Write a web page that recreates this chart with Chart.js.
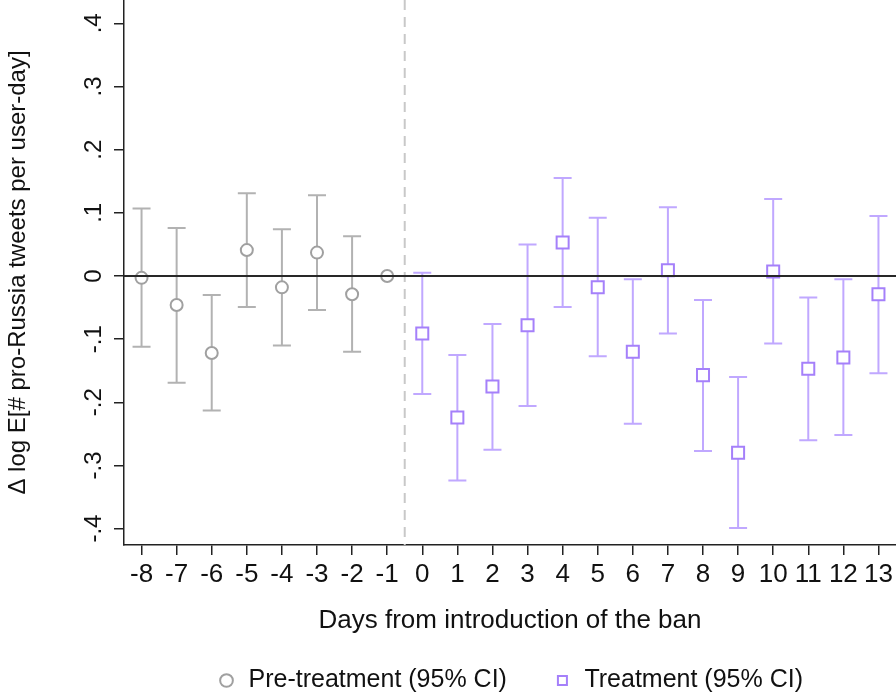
<!DOCTYPE html>
<html>
<head>
<meta charset="utf-8">
<script src="https://cdn.jsdelivr.net/npm/chart.js@4/dist/chart.umd.min.js"></script>
<style>
  html, body { margin: 0; padding: 0; background: #ffffff; }
  #wrap { width: 896px; height: 694px; }
</style>
</head>
<body>
<div id="wrap"><canvas id="c" width="896" height="694"></canvas></div>
<script>
// ---- data ----
const preDays = [-8, -7, -6, -5, -4, -3, -2, -1];
const preEst  = [-0.003, -0.046, -0.122, 0.041, -0.018, 0.037, -0.029, 0.000];
const preLo   = [-0.112, -0.169, -0.213, -0.049, -0.110, -0.054, -0.120, null];
const preHi   = [ 0.107,  0.076, -0.030,  0.131,  0.074,  0.128,  0.063, null];

const treatDays = [0, 1, 2, 3, 4, 5, 6, 7, 8, 9, 10, 11, 12, 13];
const treatEst  = [-0.091, -0.224, -0.175, -0.078, 0.053, -0.018, -0.120, 0.009, -0.157, -0.280, 0.007, -0.147, -0.129, -0.029];
const treatLo   = [-0.187, -0.324, -0.275, -0.206, -0.049, -0.127, -0.234, -0.091, -0.277, -0.399, -0.107, -0.260, -0.252, -0.154];
const treatHi   = [ 0.005, -0.125, -0.076,  0.050,  0.155,  0.092, -0.005,  0.109, -0.038, -0.160,  0.122, -0.034, -0.005,  0.095];

const xTickValues = [-8, -7, -6, -5, -4, -3, -2, -1, 0, 1, 2, 3, 4, 5, 6, 7, 8, 9, 10, 11, 12, 13];
const yTickValues = [-0.4, -0.3, -0.2, -0.1, 0, 0.1, 0.2, 0.3, 0.4];
const yTickLabels = ['-.4', '-.3', '-.2', '-.1', '0', '.1', '.2', '.3', '.4'];

const seriesNames = ['Pre-treatment (95% CI)', 'Treatment (95% CI)'];
const xTitle = 'Days from introduction of the ban';
const yTitle = 'Δ log E[# pro-Russia tweets per user-day]';
const banLine = -0.5;
const zeroLine = 0;

// ---- styling ----
const FONT = "'Liberation Sans', Arial, Helvetica, sans-serif";
const GREY_BAR = 'rgb(178,178,178)';
const GREY_MARK = 'rgb(160,160,160)';
const PURPLE_BAR = 'rgb(192,168,255)';
const PURPLE_MARK = 'rgb(165,128,250)';
const LEGEND_PAD = 46;
const LEGEND_H = 72;

const errorBars = {
  id: 'errorBars',
  beforeDatasetsDraw(chart) {
    const { ctx, chartArea, scales: { x, y } } = chart;
    // dashed line at the ban introduction
    ctx.save();
    ctx.strokeStyle = 'rgb(200,200,200)';
    ctx.lineWidth = 2;
    ctx.setLineDash([10, 7]);
    const bx = x.getPixelForValue(banLine);
    ctx.beginPath();
    ctx.moveTo(bx, chartArea.top);
    ctx.lineTo(bx, chartArea.bottom);
    ctx.stroke();
    ctx.restore();

    chart.data.datasets.forEach(ds => {
      if (!ds.errLo) return;
      ctx.save();
      ctx.strokeStyle = ds.errColor;
      ctx.lineWidth = 2;
      ds.data.forEach((pt, i) => {
        const lo = ds.errLo[i], hi = ds.errHi[i];
        if (lo == null || hi == null) return;
        const px = x.getPixelForValue(pt.x);
        const pl = y.getPixelForValue(lo);
        const ph = y.getPixelForValue(hi);
        ctx.beginPath();
        ctx.moveTo(px, pl); ctx.lineTo(px, ph);
        ctx.moveTo(px - 9, pl); ctx.lineTo(px + 9, pl);
        ctx.moveTo(px - 9, ph); ctx.lineTo(px + 9, ph);
        ctx.stroke();
      });
      ctx.restore();
    });
  },
  afterDatasetsDraw(chart) {
    const { ctx, chartArea, scales: { y } } = chart;
    const zy = y.getPixelForValue(zeroLine);
    ctx.save();
    ctx.strokeStyle = 'rgb(40,40,40)';
    ctx.lineWidth = 2;
    ctx.beginPath();
    ctx.moveTo(chartArea.left, zy);
    ctx.lineTo(chartArea.right, zy);
    ctx.stroke();
    ctx.restore();
  }
};

new Chart(document.getElementById('c'), {
  type: 'scatter',
  data: {
    datasets: [
      {
        label: seriesNames[0],
        data: preDays.map((d, i) => ({ x: d, y: preEst[i] })),
        errLo: preLo, errHi: preHi, errColor: GREY_BAR,
        pointStyle: 'circle',
        pointRadius: 6,
        pointBorderWidth: 2,
        borderColor: GREY_MARK,
        backgroundColor: '#ffffff',
        pointBorderColor: GREY_MARK,
        pointBackgroundColor: '#ffffff'
      },
      {
        label: seriesNames[1],
        data: treatDays.map((d, i) => ({ x: d, y: treatEst[i] })),
        errLo: treatLo, errHi: treatHi, errColor: PURPLE_BAR,
        pointStyle: 'rect',
        pointRadius: 8.5,
        pointBorderWidth: 2,
        borderColor: PURPLE_MARK,
        backgroundColor: '#ffffff',
        pointBorderColor: PURPLE_MARK,
        pointBackgroundColor: '#ffffff'
      }
    ]
  },
  options: {
    responsive: false,
    animation: false,
    devicePixelRatio: 1,
    layout: { padding: 0, autoPadding: false },
    plugins: {
      tooltip: { enabled: false },
      legend: {
        position: 'bottom',
        fullSize: false,
        maxHeight: LEGEND_H,
        labels: {
          usePointStyle: true,
          boxWidth: 19,
          boxHeight: 9,
          padding: LEGEND_PAD,
          color: '#111111',
          font: { family: FONT, size: 25 }
        }
      }
    },
    scales: {
      x: {
        type: 'linear',
        min: -8.5,
        max: 13.5,
        afterBuildTicks(scale) { scale.ticks = xTickValues.map(v => ({ value: v })); },
        afterFit(scale) {
          scale.height = 694 - 545 - LEGEND_H;
          scale.paddingLeft = 0;
          scale.paddingRight = 0;
        },
        border: { display: true, color: '#222222', width: 1.5 },
        grid: { drawOnChartArea: false, drawTicks: true, tickLength: 10, color: '#222222', lineWidth: 1.5 },
        ticks: {
          autoSkip: false,
          maxRotation: 0,
          minRotation: 0,
          padding: 4,
          color: '#111111',
          font: { family: FONT, size: 26 },
          callback: v => String(v)
        },
        title: {
          display: true,
          text: xTitle,
          color: '#111111',
          font: { family: FONT, size: 26 },
          padding: { top: 0, bottom: -14 }
        }
      },
      y: {
        type: 'linear',
        min: -0.426,
        max: 0.437,
        afterBuildTicks(scale) { scale.ticks = yTickValues.map(v => ({ value: v })); },
        afterFit(scale) {
          scale.width = 124;
          scale.paddingTop = 0;
          scale.paddingBottom = 0;
        },
        border: { display: true, color: '#222222', width: 1.5 },
        grid: { drawOnChartArea: false, drawTicks: true, tickLength: 10, color: '#222222', lineWidth: 1.5 },
        ticks: {
          minRotation: 90,
          maxRotation: 90,
          crossAlign: 'center',
          padding: 6,
          color: '#111111',
          font: { family: FONT, size: 24 },
          callback: v => {
            const idx = yTickValues.findIndex(t => Math.abs(t - v) < 1e-9);
            return idx >= 0 ? yTickLabels[idx] : '';
          }
        },
        title: {
          display: true,
          text: yTitle,
          color: '#111111',
          font: { family: FONT, size: 24 },
          padding: { top: 4, bottom: 0 }
        }
      }
    }
  },
  plugins: [errorBars]
});
</script>
</body>
</html>
